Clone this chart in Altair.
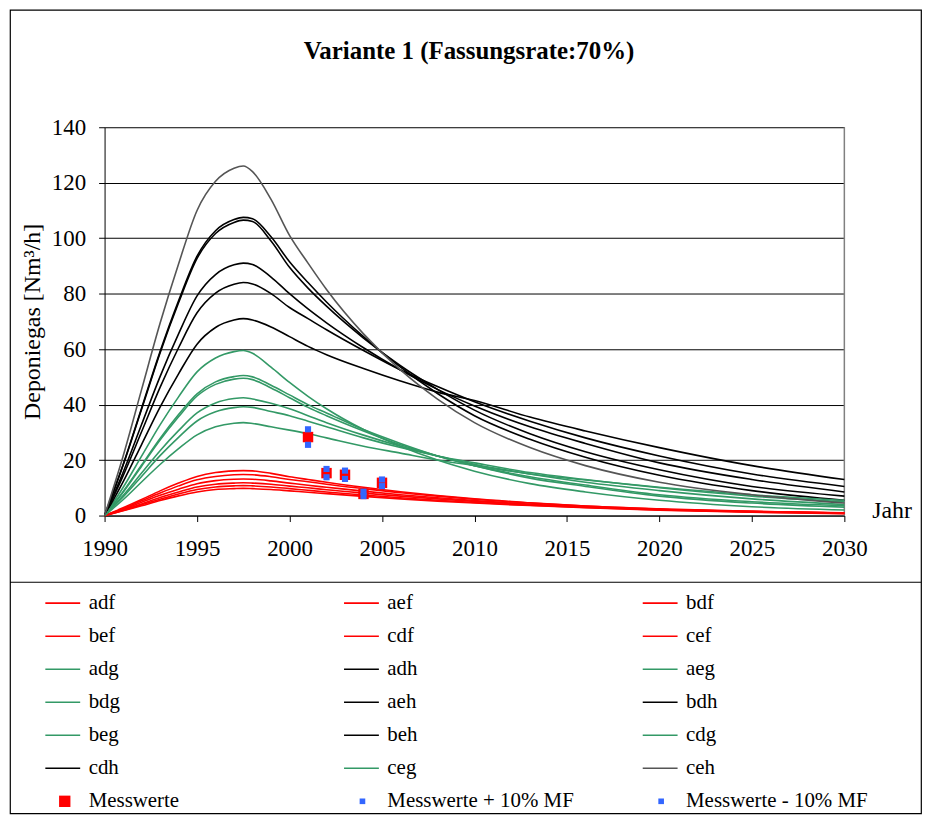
import altair as alt
import pandas as pd

# ---------------- data ----------------
YEARS = [1990, 1991, 1992, 1993, 1994, 1995, 1996, 1997, 1997.5, 1998, 1999, 2000,
         2001, 2002, 2004, 2006, 2008, 2010, 2013, 2016, 2020, 2025, 2030]

# red series (…f)
ADF = [0, 2.8, 5.8, 8.9, 11.7, 14.1, 15.5, 16.1, 16.2, 16.1, 15.2, 14.0, 13.0, 12.0, 10.2, 8.6, 7.2, 6.0, 4.6, 3.4, 2.3, 1.5, 0.9]
AEF = [0, 2.5, 5.3, 8.1, 10.7, 12.9, 14.1, 14.7, 14.8, 14.7, 14.0, 13.0, 12.2, 11.3, 9.7, 8.2, 7.0, 5.9, 4.5, 3.4, 2.4, 1.5, 1.0]
BDF = [0, 2.2, 4.8, 7.3, 9.5, 11.5, 12.6, 13.1, 13.2, 13.1, 12.5, 11.7, 10.9, 10.2, 8.8, 7.5, 6.4, 5.4, 4.1, 3.2, 2.2, 1.4, 0.9]
BEF = [0, 2.0, 4.2, 6.5, 8.5, 10.3, 11.3, 11.7, 11.8, 11.7, 11.3, 10.6, 10.0, 9.3, 8.1, 7.0, 6.0, 5.1, 4.0, 3.1, 2.2, 1.4, 0.9]
CDF = [0, 1.8, 3.9, 5.9, 7.8, 9.4, 10.3, 10.7, 10.8, 10.7, 10.3, 9.7, 9.1, 8.5, 7.4, 6.4, 5.5, 4.7, 3.7, 2.9, 2.0, 1.3, 0.8]
CEF = [0, 1.7, 3.5, 5.4, 7.1, 8.5, 9.4, 9.7, 9.8, 9.7, 9.4, 8.9, 8.4, 7.9, 6.9, 6.0, 5.2, 4.5, 3.6, 2.8, 1.9, 1.2, 0.7]

# green series (…g)
ADG = [0, 10.1, 21.4, 32.7, 42.8, 51.8, 56.8, 59.1, 59.5, 58.5, 53.5, 48.0, 43.0, 38.5, 31.0, 25.0, 20.0, 16.0, 11.5, 8.5, 5.5, 3.2, 2.0]
AEG = [0, 8.6, 18.2, 27.8, 36.4, 43.9, 48.2, 50.1, 50.5, 50.0, 47.0, 43.5, 40.0, 37.0, 31.0, 26.0, 21.5, 18.0, 13.5, 10.5, 7.0, 4.5, 3.0]
BDG = [0, 8.4, 17.8, 27.2, 35.6, 43.1, 47.3, 49.2, 49.5, 49.0, 46.0, 42.5, 39.0, 36.0, 30.5, 25.5, 21.5, 18.0, 14.0, 11.0, 7.5, 5.0, 3.5]
BEG = [0, 7.2, 15.3, 23.4, 30.6, 37.0, 40.6, 42.2, 42.5, 42.0, 40.5, 38.5, 36.0, 33.5, 29.0, 25.0, 21.5, 18.5, 15.0, 12.0, 9.0, 6.0, 4.0]
CDG = [0, 6.7, 14.1, 21.6, 28.2, 34.1, 37.4, 38.9, 39.2, 39.0, 37.5, 36.0, 34.0, 32.0, 28.0, 24.5, 21.5, 19.0, 15.5, 13.0, 10.0, 7.0, 5.0]
CEG = [0, 5.7, 12.1, 18.4, 24.1, 29.1, 32.0, 33.3, 33.5, 33.2, 32.0, 30.8, 29.5, 28.0, 25.0, 22.5, 20.0, 18.0, 15.0, 12.8, 10.2, 7.5, 5.5]

# black series (…h)
ADH = [0, 12.1, 25.6, 39.1, 51.1, 61.8, 67.8, 70.5, 71.0, 70.5, 68.0, 64.5, 61.0, 58.0, 53.0, 48.5, 44.5, 41.5, 35.5, 30.5, 24.5, 18.0, 13.0]
AEH = [0, 14.3, 30.2, 46.2, 60.5, 73.1, 80.2, 83.4, 84.0, 83.5, 80.0, 75.0, 71.0, 67.0, 59.5, 52.5, 46.5, 41.0, 34.0, 28.0, 21.5, 15.0, 10.5]
BDH = [0, 15.5, 32.8, 50.1, 65.5, 79.2, 86.9, 90.4, 91.0, 90.5, 86.0, 80.0, 74.5, 69.5, 60.5, 52.5, 45.5, 39.5, 32.0, 26.0, 19.0, 13.0, 8.5]
BEH = [0, 18.1, 38.3, 58.6, 76.7, 92.7, 101.7, 105.7, 106.5, 106.0, 99.0, 89.5, 82.0, 75.5, 64.0, 54.0, 45.5, 38.0, 29.5, 23.0, 16.5, 10.5, 7.0]
CDH = [0, 18.3, 38.7, 59.1, 77.4, 93.5, 102.7, 106.7, 107.5, 107.0, 100.5, 91.5, 84.0, 77.0, 64.5, 53.5, 44.0, 36.0, 27.5, 21.0, 14.5, 9.0, 5.5]
CEH = [0, 21.4, 45.4, 69.3, 90.7, 110.0, 120.5, 125.2, 126.0, 124.0, 114.0, 101.0, 91.0, 81.5, 65.5, 52.5, 42.0, 33.5, 24.5, 18.0, 12.0, 7.5, 4.5]

CURVE_NAMES = ["adf", "aef", "bdf", "bef", "cdf", "cef",
               "adg", "adh", "aeg", "bdg", "aeh", "bdh",
               "beg", "beh", "cdg", "cdh", "ceg", "ceh"]
CURVE_VALUES = [ADF, AEF, BDF, BEF, CDF, CEF,
                ADG, ADH, AEG, BDG, AEH, BDH,
                BEG, BEH, CDG, CDH, CEG, CEH]

RED = "#FF0000"
GREEN = "#339966"
BLACK = "#000000"
GRAY = "#555555"
BLUE = "#3366FF"
CURVE_COLORS = [RED, RED, RED, RED, RED, RED,
                GREEN, BLACK, GREEN, GREEN, BLACK, BLACK,
                GREEN, BLACK, GREEN, BLACK, GREEN, GRAY]

MESS_YEARS = [2001, 2002, 2003, 2004, 2005]
MESS = [28.3, 15.3, 14.7, 7.8, 11.8]
MESS_PLUS = [31.1, 16.8, 16.2, 8.6, 13.0]
MESS_MINUS = [25.5, 13.8, 13.2, 7.0, 10.6]

POINT_NAMES = ["Messwerte", "Messwerte + 10% MF", "Messwerte - 10% MF"]
LEGEND_LABELS = CURVE_NAMES + POINT_NAMES

X_TICKS = [1990, 1995, 2000, 2005, 2010, 2015, 2020, 2025, 2030]
Y_TICKS = [0, 20, 40, 60, 80, 100, 120, 140]

TITLE = "Variante 1 (Fassungsrate:70%)"
Y_TITLE = "Deponiegas [Nm³/h]"
X_TITLE = "Jahr"

# ---------------- tables ----------------
curves_df = pd.DataFrame(
    [{"series": n, "year": y, "value": v}
     for n, vals in zip(CURVE_NAMES, CURVE_VALUES)
     for y, v in zip(YEARS, vals)]
)
mess_df = pd.DataFrame({"year": MESS_YEARS, "value": MESS})
mess_pm_df = pd.DataFrame(
    {"year": MESS_YEARS + MESS_YEARS, "value": MESS_PLUS + MESS_MINUS}
)
legend_df = pd.DataFrame(
    [{"name": n, "row": i // 3, "col": i % 3,
      "kind": "line" if i < len(CURVE_NAMES) else ("red" if n == "Messwerte" else "blue")}
     for i, n in enumerate(LEGEND_LABELS)]
)

# ---------------- layout ----------------
W, H = 915, 807
PLOT_X = [95, 838]
PLOT_Y = [508, 118]
SERIF = "Liberation Serif"

xs = alt.Scale(domain=[1990, 2030], range=PLOT_X, nice=False, zero=False)
ys = alt.Scale(domain=[0, 140], range=PLOT_Y, nice=False)
cscale = alt.Scale(domain=CURVE_NAMES, range=CURVE_COLORS)

x_axis = alt.Axis(values=X_TICKS, format="d", offset=-(H - PLOT_Y[0]), tickSize=6,
                  labelPadding=16, grid=False, title=None, labelFontSize=23,
                  labelFont=SERIF, domainColor="black", tickColor="black",
                  labelColor="black", labelFlush=False)
y_axis = alt.Axis(values=Y_TICKS, offset=-PLOT_X[0], tickSize=6, labelPadding=13,
                  grid=True, gridColor="black", gridWidth=1, title=Y_TITLE,
                  titleFont=SERIF, titleFontSize=24, titleFontWeight="normal",
                  titleX=-72, titleBaseline="middle", titleColor="black",
                  labelFontSize=23, labelFont=SERIF, domainColor="black",
                  tickColor="black", labelColor="black")

lines = alt.Chart(curves_df).mark_line(strokeWidth=1.6, interpolate="monotone").encode(
    x=alt.X("year:Q", scale=xs, axis=x_axis),
    y=alt.Y("value:Q", scale=ys, axis=y_axis),
    color=alt.Color("series:N", scale=cscale, legend=None),
)
right_border = alt.Chart(pd.DataFrame({"a": [0]})).mark_rule(color="#808080", strokeWidth=1.5).encode(
    x=alt.datum(2030, scale=xs), y=alt.datum(0, scale=ys), y2=alt.datum(140)
)
red_pts = alt.Chart(mess_df).mark_square(size=110, color=RED, opacity=1).encode(
    x=alt.X("year:Q", scale=xs), y=alt.Y("value:Q", scale=ys)
)
blue_pts = alt.Chart(mess_pm_df).mark_square(size=38, color=BLUE, opacity=1).encode(
    x=alt.X("year:Q", scale=xs), y=alt.Y("value:Q", scale=ys)
)
plot = alt.layer(right_border, lines, red_pts, blue_pts)

# legend (custom, drawn through its own scales)
lx = alt.Scale(domain=[0, 2], range=[53, 653])
ly = alt.Scale(domain=[0, 6], range=[596, 795])
leg_base = alt.Chart(legend_df)
leg_lines = leg_base.transform_filter(alt.datum.kind == "line").mark_point(
    shape="stroke", size=1225, strokeWidth=1.6, filled=False, opacity=1
).encode(
    x=alt.X("col:Q", scale=lx, axis=None),
    y=alt.Y("row:Q", scale=ly, axis=None),
    color=alt.Color("name:N", scale=cscale, legend=None),
)
leg_red = leg_base.transform_filter(alt.datum.kind == "red").mark_square(
    size=130, color=RED, opacity=1, xOffset=2
).encode(x=alt.X("col:Q", scale=lx, axis=None), y=alt.Y("row:Q", scale=ly, axis=None))
leg_blue = leg_base.transform_filter(alt.datum.kind == "blue").mark_square(
    size=32, color=BLUE, opacity=1, xOffset=1
).encode(x=alt.X("col:Q", scale=lx, axis=None), y=alt.Y("row:Q", scale=ly, axis=None))
leg_text = leg_base.mark_text(align="left", baseline="middle", dx=26, font=SERIF,
                              fontSize=21, color="black").encode(
    x=alt.X("col:Q", scale=lx, axis=None),
    y=alt.Y("row:Q", scale=ly, axis=None),
    text="name:N",
)
legend = alt.layer(leg_lines, leg_red, leg_blue, leg_text)

# decorations
title = alt.Chart(pd.DataFrame({"t": [TITLE]})).mark_text(
    font=SERIF, fontSize=25, fontWeight="bold", align="center", baseline="middle", color="black"
).encode(x=alt.value(461), y=alt.value(41), text="t:N")
jahr = alt.Chart(pd.DataFrame({"t": [X_TITLE]})).mark_text(
    font=SERIF, fontSize=24, align="left", baseline="middle", color="black"
).encode(x=alt.value(866), y=alt.value(503), text="t:N")
sep = alt.Chart(pd.DataFrame({"a": [0]})).mark_rule(color="black", strokeWidth=1.2).encode(
    x=alt.value(0), x2=alt.value(W), y=alt.value(575)
)
deco = alt.layer(title, jahr, sep)

chart = alt.layer(plot, legend, deco).resolve_scale(
    x="independent", y="independent", color="independent"
).properties(
    width=W, height=H,
    autosize=alt.AutoSizeParams(type="none"),
    padding={"left": 2, "top": 0, "right": 3, "bottom": 3},
).configure_view(stroke="black", strokeWidth=1.2)

chart.save("out.html", embed_options={"renderer": "svg", "actions": False})
